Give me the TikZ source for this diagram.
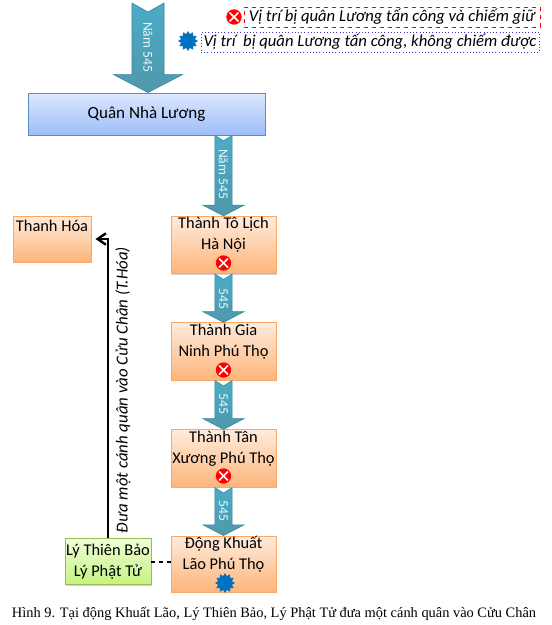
\documentclass[tikz,border=0pt]{standalone}
\usepackage{fontspec}
\setmainfont{Carlito}
\newfontfamily\capfont{Liberation Serif}
\usepackage{xcolor}
\usepackage{tikz}
\usetikzlibrary{arrows.meta,positioning,shapes.geometric,shapes.misc,shadows,calc}
\definecolor{armyblue}{HTML}{4BACC6}
\definecolor{armyedge}{HTML}{31859C}
\definecolor{legendblue}{HTML}{0070C0}
\definecolor{orangetop}{HTML}{FFEBDC}
\definecolor{orangebot}{HTML}{FDB57A}
\definecolor{orangeline}{HTML}{F9A868}
\definecolor{bluetop}{HTML}{DCE8FF}
\definecolor{bluebot}{HTML}{9DBDF7}
\definecolor{blueline}{HTML}{5B8FC0}
\definecolor{greentop}{HTML}{F0FFD8}
\definecolor{greenbot}{HTML}{C4F27E}
\definecolor{greenline}{HTML}{9BBB59}
\tikzset{
  box/.style={draw=orangeline, line width=0.7pt, top color=orangetop, bottom color=orangebot, align=center, font=\fontsize{12.3}{15.5}\selectfont, minimum width=78.75pt, minimum height=43pt, inner sep=0pt, drop shadow={shadow xshift=0.6pt, shadow yshift=-0.8pt, opacity=0.35}},
  leaderbox/.style={box, draw=greenline, top color=greentop, bottom color=greenbot, minimum width=64.5pt, minimum height=35pt},
  armybox/.style={box, draw=blueline, top color=bluetop, bottom color=bluebot, minimum width=177.75pt, minimum height=31.5pt, font=\fontsize{12.8}{15}\selectfont},
  lostmark/.style={cross out, draw=white, line width=1.1pt, minimum size=5.5pt, inner sep=0pt},
  lostdot/.style={circle, fill=red, minimum size=11.5pt, inner sep=0pt},
  heldmark/.style={star, star points=12, star point ratio=1.4, fill=legendblue, minimum size=15pt, inner sep=0pt},
  legendbox/.style={rectangle, dashed, line width=0.4pt, font=\fontsize{12.5}{14}\selectfont\itshape, inner sep=0pt, minimum height=15pt},
  arrlabel/.style={rotate=-90, font=\fontsize{10.2}{11}\selectfont, text=cyan!8},
  blockarr/.style n args={3}{draw=armyedge, line width=0.4pt, top color=armyblue, bottom color=armyedge!85,
    to path={let \p1=(\tikztostart), \p2=(\tikztotarget) in
      (\x1-#1,\y1) -- (\x1,\y1-#3*0.5) -- (\x1+#1,\y1) -- (\x1+#1,\y2+#3) -- (\x1+#2,\y2+#3) -- (\x2,\y2) -- (\x1-#2,\y2+#3) -- (\x1-#1,\y2+#3) -- cycle}},
  bigarr/.style={blockarr={12pt}{26pt}{13.5pt}},
  smallarr/.style={blockarr={6.4pt}{15.4pt}{8pt}},
  sidearr/.style={-{Straight Barb[length=2.2mm,width=3mm]}, line width=1.8pt},
  linkline/.style={dashed, line width=1.5pt}
}

\begin{document}
\begin{tikzpicture}[x=0.75pt,y=-0.75pt]
\useasboundingbox (0,0) rectangle (551,625);

\coordinate (start) at (148,3);
\node[armybox] (luong) at (146.5,114) {Quân Nhà Lương};
\node[box] (tolich) at (223.5,245) {Thành Tô Lịch\\Hà Nội\\[-3pt]\strut};
\node[box] (gianinh) at (223.5,351.5) {Thành Gia\\Ninh Phú Thọ\\[-3pt]\strut};
\node[box] (tanxuong) at (223.5,458.5) {Thành Tân\\Xương Phú Thọ\\[-3pt]\strut};
\node[box,minimum height=42pt] (khuatlao) at (223.5,564) {Động Khuất\\Lão Phú Thọ\\[-3pt]\strut};
\node[box,minimum width=58.5pt,minimum height=34.5pt] (thanhhoa) at (52,239) {Thanh Hóa\\\strut};
\node[leaderbox] (lybao) at (108,561.5) {Lý Thiên Bảo\\Lý Phật Tử};

\draw[bigarr] (start) to (start |- luong.north);
\draw[smallarr] (tolich.north |- luong.south) to (tolich.north);
\draw[smallarr] (tolich.south) to (gianinh.north);
\draw[smallarr] (gianinh.south) to (tanxuong.north);
\draw[smallarr] (tanxuong.south) to (khuatlao.north);

\node[arrlabel] (nam1) at (148,47) {Năm 545};
\node[arrlabel] (nam2) at (223.5,174) {Năm 545};
\node[arrlabel] (nam3) at (223.5,299) {545};
\node[arrlabel] (nam4) at (223.5,404) {545};
\node[arrlabel] (nam5) at (223.5,511) {545};

\node[lostdot] (dot1) at (223.5,263) {};
\node[lostmark] at (dot1) {};
\node[lostdot] (dot2) at (223.5,370) {};
\node[lostmark] at (dot2) {};
\node[lostdot] (dot3) at (223.5,476) {};
\node[lostmark] at (dot3) {};
\node[heldmark] (held1) at (225,583) {};

\draw[sidearr] (lybao.north) |- ([xshift=3pt]thanhhoa.east);
\draw[linkline] (lybao.east) -- (lybao.east -| khuatlao.west);
\node[rotate=90, font=\fontsize{12.6}{14}\selectfont\itshape] (dua) at (123,390) {Đưa một cánh quân vào Cửu Chân (T.Hóa)};

\node[legendbox, draw=red, minimum width=222pt] (legend1) at (392,17) {Vị trí bị quân Lương tấn công và chiếm giữ};
\node[legendbox, draw=blue!60!gray, dotted, minimum width=253.5pt] (legend2) at (370,42) {Vị trí \ bị quân Lương tấn công, không chiếm được};
\node[lostdot] (dot0) at (234,17) {};
\node[lostmark] at (dot0) {};
\node[heldmark] (held0) at (188,41) {};

\node[font=\capfont\fontsize{10.8}{12}\selectfont] (caption) at (274,614) {Hình 9. Tại động Khuất Lão, Lý Thiên Bảo, Lý Phật Tử đưa một cánh quân vào Cửu Chân};
\end{tikzpicture}
\end{document}
